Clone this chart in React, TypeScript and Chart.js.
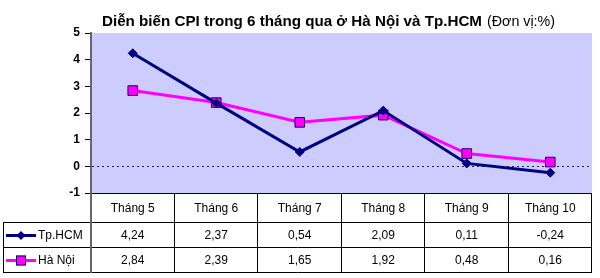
import React, { useEffect, useRef } from 'react';
import { Chart, registerables } from 'chart.js';

Chart.register(...registerables);

const categories = ['Tháng 5', 'Tháng 6', 'Tháng 7', 'Tháng 8', 'Tháng 9', 'Tháng 10'];
const hcmValues = [4.24, 2.37, 0.54, 2.09, 0.11, -0.24];
const hanoiValues = [2.84, 2.39, 1.65, 1.92, 0.48, 0.16];
const seriesNames = ['Tp.HCM', 'Hà Nội'];
const yMin = -1;
const yMax = 5;
const titleMain = 'Diễn biến CPI trong 6 tháng qua ở Hà Nội và Tp.HCM';
const titleUnit = '(Đơn vị:%)';

const FONT = '"Liberation Sans", Arial, sans-serif';
const HCM_COLOR = '#000080';
const HN_COLOR = '#FF00FF';
const HN_BORDER = '#200060';

const fmt = (v: number) => v.toFixed(2).replace('.', ',');

const bgPlugin = {
  id: 'plotBg',
  beforeDraw(chart: any) {
    const { ctx, chartArea: a } = chart;
    ctx.save();
    ctx.fillStyle = '#CCCCFF';
    ctx.fillRect(a.left, a.top, a.right - a.left, a.bottom - a.top);
    ctx.restore();
  },
};

const drawDiamond = (ctx: CanvasRenderingContext2D, x: number, y: number, r: number) => {
  ctx.beginPath();
  ctx.moveTo(x, y - r);
  ctx.lineTo(x + r, y);
  ctx.lineTo(x, y + r);
  ctx.lineTo(x - r, y);
  ctx.closePath();
  ctx.fillStyle = HCM_COLOR;
  ctx.fill();
};

const drawSquare = (ctx: CanvasRenderingContext2D, x: number, y: number, s: number) => {
  ctx.fillStyle = HN_COLOR;
  ctx.fillRect(x - s / 2, y - s / 2, s, s);
  ctx.strokeStyle = HN_BORDER;
  ctx.lineWidth = 1;
  ctx.strokeRect(x - s / 2 + 0.5, y - s / 2 + 0.5, s - 1, s - 1);
};

const tablePlugin = {
  id: 'dataTable',
  afterDraw(chart: any) {
    const { ctx, chartArea: a } = chart;
    const xs = chart.scales.x;
    const n = categories.length;
    const edges: number[] = [];
    for (let i = 0; i <= n; i++) {
      if (i === 0) edges.push(a.left);
      else if (i === n) edges.push(a.right);
      else edges.push((xs.getPixelForValue(i - 1) + xs.getPixelForValue(i)) / 2);
    }
    const top = a.bottom;
    const r1 = top + 29;
    const r2 = r1 + 25;
    const r3 = r2 + 25;
    const leftX = 3;

    ctx.save();
    ctx.strokeStyle = '#000';
    ctx.lineWidth = 1;
    ctx.beginPath();
    ctx.moveTo(a.left, Math.round(top) + 0.5);
    ctx.lineTo(a.right, Math.round(top) + 0.5);
    [r1, r2, r3].forEach((y) => {
      ctx.moveTo(leftX, Math.round(y) + 0.5);
      ctx.lineTo(a.right, Math.round(y) + 0.5);
    });
    ctx.moveTo(leftX + 0.5, r1);
    ctx.lineTo(leftX + 0.5, r3 + 0.5);
    edges.forEach((x, i) => {
      const xx = Math.round(x) + (i === 0 ? 0 : -0.5);
      ctx.moveTo(xx, top);
      ctx.lineTo(xx, r3 + 0.5);
    });
    ctx.stroke();
    ctx.strokeStyle = '#666';
    ctx.lineWidth = 2;
    ctx.beginPath();
    ctx.moveTo(a.left, top);
    ctx.lineTo(a.left, r3 + 1);
    ctx.stroke();

    ctx.fillStyle = '#000';
    ctx.font = `12px ${FONT}`;
    ctx.textAlign = 'center';
    ctx.textBaseline = 'middle';
    const hY = (top + r1) / 2 + 1;
    const y1 = (r1 + r2) / 2 + 1;
    const y2 = (r2 + r3) / 2 + 1;
    categories.forEach((c, i) => {
      const cx = (edges[i] + edges[i + 1]) / 2;
      ctx.fillText(c, cx, hY);
      ctx.fillText(fmt(hcmValues[i]), cx, y1);
      ctx.fillText(fmt(hanoiValues[i]), cx, y2);
    });

    ctx.lineWidth = 3;
    ctx.strokeStyle = HCM_COLOR;
    ctx.beginPath();
    ctx.moveTo(6, y1);
    ctx.lineTo(36, y1);
    ctx.stroke();
    drawDiamond(ctx, 21, y1, 4.5);
    ctx.strokeStyle = HN_COLOR;
    ctx.beginPath();
    ctx.moveTo(6, y2);
    ctx.lineTo(36, y2);
    ctx.stroke();
    drawSquare(ctx, 21, y2, 10);
    ctx.fillStyle = '#000';
    ctx.textAlign = 'left';
    ctx.fillText(seriesNames[0], 38, y1);
    ctx.fillText(seriesNames[1], 38, y2);

    ctx.textBaseline = 'alphabetic';
    ctx.font = `bold 15px ${FONT}`;
    const wMain = ctx.measureText(titleMain).width;
    const s = Math.min(1.15, Math.max(0.75, 380 / wMain));
    ctx.save();
    ctx.translate(102, 26);
    ctx.scale(s, 1);
    ctx.fillText(titleMain, 0, 0);
    ctx.restore();
    ctx.font = `15px ${FONT}`;
    const wUnit = ctx.measureText(titleUnit).width;
    const su = Math.min(1.15, Math.max(0.75, 68 / wUnit));
    ctx.save();
    ctx.translate(102 + 380 + 5, 26);
    ctx.scale(su, 1);
    ctx.fillText(titleUnit, 0, 0);
    ctx.restore();
    ctx.restore();
  },
};

export default function App() {
  const ref = useRef<HTMLCanvasElement | null>(null);
  useEffect(() => {
    document.body.style.margin = '0';
    const canvas = ref.current;
    if (!canvas) return;
    const chart = new Chart(canvas, {
      type: 'line',
      data: {
        labels: categories,
        datasets: [
          {
            label: seriesNames[0],
            data: hcmValues,
            borderColor: HCM_COLOR,
            backgroundColor: HCM_COLOR,
            borderWidth: 3,
            pointStyle: 'rectRot',
            pointRadius: 4.5,
            pointBackgroundColor: HCM_COLOR,
            pointBorderColor: HCM_COLOR,
            pointBorderWidth: 1,
            tension: 0,
          },
          {
            label: seriesNames[1],
            data: hanoiValues,
            borderColor: HN_COLOR,
            backgroundColor: HN_COLOR,
            borderWidth: 3,
            pointStyle: 'rect',
            pointRadius: 6.8,
            pointBackgroundColor: HN_COLOR,
            pointBorderColor: HN_BORDER,
            pointBorderWidth: 1,
            tension: 0,
          },
        ],
      },
      options: {
        responsive: false,
        devicePixelRatio: 1,
        animation: false,
        layout: { padding: { left: 0, top: 33, right: 8, bottom: 85 } },
        plugins: {
          legend: { display: false },
          title: { display: false },
          tooltip: { enabled: false },
        },
        scales: {
          x: {
            type: 'category',
            display: false,
            offset: true,
          },
          y: {
            min: yMin,
            max: yMax,
            afterFit: (scale: any) => {
              scale.width = 91;
            },
            ticks: {
              stepSize: 1,
              color: '#000',
              padding: 5,
              font: { family: FONT, size: 12, weight: 'bold' },
            },
            grid: {
              color: (c: any) => (c.tick && c.tick.value === 0 ? '#222244' : 'rgba(0,0,0,0)'),
              tickColor: '#000',
              tickLength: 6,
              lineWidth: 1,
            },
            border: { color: '#666', width: 2, dash: [2, 3] },
          },
        },
      },
      plugins: [bgPlugin, tablePlugin],
    });
    return () => chart.destroy();
  }, []);
  return (
    <div style={{ position: 'absolute', left: 0, top: 0, width: 600, height: 278, background: '#fff' }}>
      <canvas ref={ref} width={600} height={278} style={{ display: 'block' }} />
    </div>
  );
}
